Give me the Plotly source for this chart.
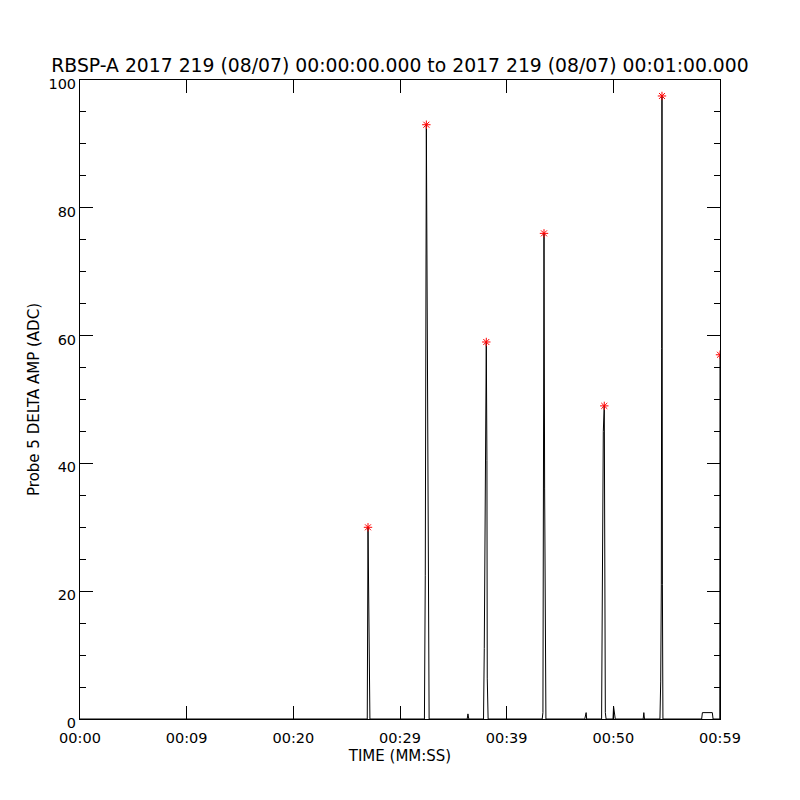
import plotly.graph_objects as go

# Time in seconds since 00:00:00 and amplitude (ADC)
time_s = [0.0, 26.93, 27.0, 27.1, 27.18,
          32.29, 32.37, 32.47, 32.56, 32.65, 32.73,
          36.30, 36.37, 36.45,
          37.83, 37.90, 38.09, 38.15, 38.18, 38.26,
          43.33, 43.40, 43.43, 43.50, 43.56, 43.62, 43.68,
          47.32, 47.38, 47.45, 47.50,
          48.90, 48.97, 49.06, 49.15, 49.20, 49.25, 49.32,
          49.97, 50.02, 50.08, 50.14, 50.18,
          52.80, 52.86, 52.92,
          54.37, 54.44, 54.50, 54.53, 54.56, 54.60, 54.65,
          58.28, 58.35, 59.28, 59.35, 59.98, 60.0]
amp = [0, 0, 30, 15, 0,
       0, 22.4, 93, 54, 7.5, 0,
       0, 0.8, 0,
       0, 11, 59, 40.5, 6.4, 0,
       0, 1, 39, 76, 36, 1, 0,
       0, 1, 1, 0,
       0, 20.5, 45, 49, 20, 1, 0,
       0, 2, 1.2, 0.5, 0,
       0, 1, 0,
       0, 5.8, 21, 58, 97.5, 21, 0,
       0, 1, 1, 0, 0, 57]

peak_time = [27.0, 32.47, 38.09, 43.50, 49.15, 54.56, 60.0]
peak_amp = [30, 93, 59, 76, 49, 97.5, 57]

tick_vals = [0, 10, 20, 30, 40, 50, 60]
tick_text = ["00:00", "00:09", "00:20", "00:29", "00:39", "00:50", "00:59"]
y_tick_vals = [0, 20, 40, 60, 80, 100]

title = "RBSP-A 2017 219 (08/07) 00:00:00.000 to 2017 219 (08/07) 00:01:00.000"

fig = go.Figure()
fig.add_trace(go.Scatter(x=time_s, y=amp, mode="lines",
                         line=dict(color="black", width=1), showlegend=False))
fig.add_trace(go.Scatter(x=peak_time, y=peak_amp, mode="markers",
                         marker=dict(symbol="asterisk-open", size=7,
                                     line=dict(color="red", width=1), color="red"),
                         showlegend=False))

font = "DejaVu Sans"
# the page body adds an 8px offset; margins compensate so the plot box sits at 80..720 / 80..719
fig.update_layout(
    width=800, height=800,
    margin=dict(l=72, r=88, t=72, b=89, autoexpand=False),
    paper_bgcolor="white", plot_bgcolor="white",
    font=dict(family=font, color="black", size=14),
    title=dict(text=title, x=(400 - 8) / 800, xanchor="center", y=1 - 57 / 800, yanchor="middle",
               font=dict(family=font, size=18.8, color="black"), automargin=False),
    xaxis=dict(range=[0, 60], tickmode="array", tickvals=tick_vals, ticktext=tick_text,
               ticks="inside", ticklen=13, tickwidth=1, tickcolor="black",
               showline=True, linecolor="black", linewidth=1, mirror="allticks",
               showgrid=False, zeroline=False, automargin=False,
               ticklabelstandoff=6,
               title=dict(text="TIME (MM:SS)", font=dict(size=15), standoff=5),
               tickfont=dict(size=14.5)),
    yaxis=dict(range=[0, 100], tickmode="array", tickvals=y_tick_vals,
               ticks="inside", ticklen=13, tickwidth=1, tickcolor="black",
               minor=dict(dtick=5, ticks="inside", ticklen=6, tickcolor="black", tickwidth=1),
               showline=True, linecolor="black", linewidth=1, mirror="allticks",
               showgrid=False, zeroline=False, automargin=False,
               ticklabelshift=4,
               title=dict(text="Probe 5 DELTA AMP (ADC)", font=dict(size=15), standoff=5),
               tickfont=dict(size=14.5)),
)

fig.write_html("out.html")
